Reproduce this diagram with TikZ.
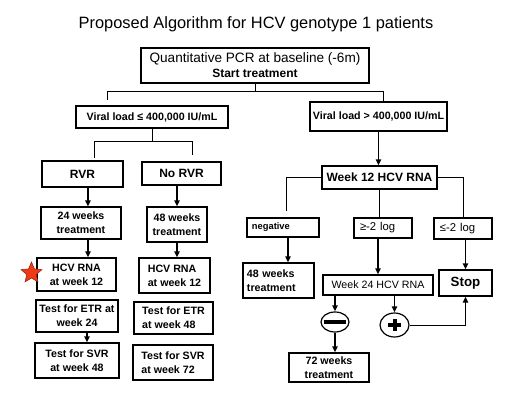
\documentclass[tikz,border=0pt]{standalone}
\usepackage{fontspec}
\setmainfont{Liberation Sans}
\usepackage{xcolor}
\usepackage{tikz}
\usetikzlibrary{arrows.meta,shapes.geometric}
\definecolor{starred}{HTML}{EE3B16}
\definecolor{stardark}{HTML}{9A1E0A}
\tikzset{
  box/.style={draw,line width=0.9pt,inner sep=1pt,align=center,font=\bfseries\fontsize{8}{10.5}\selectfont},
  sz/.style n args={2}{minimum width=#1*0.75pt,minimum height=#2*0.75pt},
  lbox/.style={align=left,text width=#1*0.75pt},
  link/.style={line width=0.7pt},
  arr/.style={line width=1.4pt,-{Triangle[length=4.5pt,width=4pt]}},
  oval/.style={draw,ellipse,line width=0.9pt,inner sep=0pt},
}

\begin{document}
\begin{tikzpicture}[x=0.75pt,y=-0.75pt]
  \useasboundingbox (0,0) rectangle (512,407);
  \node[anchor=base,font=\fontsize{12.3}{14}\selectfont] (title) at (256,28) {Proposed Algorithm for HCV genotype 1 patients};
  \node[box,sz={228}{35},font=\fontsize{10.2}{11.25}\selectfont] (start) at (255,65.5) {Quantitative PCR at baseline (-6m)\\{\bfseries\fontsize{9}{11.25}\selectfont Start treatment}};
  \node[box,sz={152}{22}] (vlow) at (152,117) {Viral load ≤ 400,000 IU/mL};
  \node[box,sz={137}{29}] (vhigh) at (378.5,116.5) {Viral load > 400,000 IU/mL};
  % low viral load branch
  \node[box,sz={81}{26},font=\bfseries\fontsize{9}{11}\selectfont] (rvr) at (82.5,174) {RVR};
  \node[box,sz={79}{23},font=\bfseries\fontsize{9}{11}\selectfont] (norvr) at (181.5,173.5) {No RVR};
  \node[box,sz={80}{32}] (wk24t) at (81,223) {24 weeks\\treatment};
  \node[box,sz={60}{35}] (wk48t) at (177,224.5) {48 weeks\\treatment};
  \node[box,sz={79}{33}] (rnaA) at (76.5,274.5) {HCV RNA\\at week 12};
  \node[box,sz={71}{35},align=left] (rnaB) at (174.5,275.5) {HCV RNA\\at week 12};
  \node[box,sz={82}{32}] (etrA) at (77,316) {Test for ETR at\\week 24};
  \node[box,sz={84}{35}] (svrA) at (77,360.5) {Test for SVR\\at week 48};
  \node[box,sz={79}{32},align=left] (etrB) at (173.5,318) {Test for ETR\\at week 48};
  \node[box,sz={80}{35},align=left] (svrB) at (173,362.5) {Test for SVR\\at week 72};
  \node[star,star points=5,star point ratio=2.2,minimum size=16.5pt,inner sep=0pt,fill=starred,draw=stardark,line width=0.4pt] (flag) at (31.5,273) {};
  % high viral load branch
  \node[box,sz={115}{23},font=\bfseries\fontsize{9}{11}\selectfont] (wk12) at (379.5,177.5) {Week 12 HCV RNA};
  \node[box,sz={72}{19},lbox=62,font=\bfseries\fontsize{7}{9}\selectfont] (neg) at (283,227.5) {negative};
  \node[box,sz={58}{20},lbox=46,font=\fontsize{8.5}{10}\selectfont] (ge) at (383,228) {≥-2 log};
  \node[box,sz={58}{21},lbox=46,font=\fontsize{8.5}{10}\selectfont] (le) at (463,228.5) {≤-2 log};
  \node[box,sz={71}{35},lbox=63] (wk48r) at (278.5,280.5) {48 weeks\\treatment};
  \node[box,sz={110}{20},font=\fontsize{8}{10}\selectfont] (wk24) at (378,285) {Week 24 HCV RNA};
  \node[box,sz={53}{26},font=\bfseries\fontsize{10}{12}\selectfont] (stop) at (465.5,283) {Stop};
  \node[oval,sz={28}{20}] (minus) at (335,322) {};
  \node[oval,sz={29}{24}] (plus) at (394.5,325) {};
  \node[box,sz={80}{29}] (wk72) at (329,367.5) {72 weeks\\treatment};
  \draw[line width=3pt] ([xshift=-8.6pt]minus.center) -- ([xshift=8.6pt]minus.center);
  \draw[line width=3pt] ([xshift=-4.9pt]plus.center) -- ([xshift=4.9pt]plus.center);
  \draw[line width=3pt] ([yshift=-4.5pt]plus.center) -- ([yshift=4.5pt]plus.center);
  % connectors
  \draw[link] (start.south) -- ++(0,8) coordinate (split1);
  \coordinate (tickL) at (107,100);
  \draw[link] (split1) -| (tickL);
  \draw[link] (split1) -| ([xshift=3.4pt]vhigh.north);
  \draw[link] (vlow.south) -- ++(0,13) coordinate (split2);
  \draw[link] (split2) -| ([xshift=8.6pt,yshift=2pt]rvr.north);
  \draw[link] (split2) -| ([xshift=7.9pt,yshift=5pt]norvr.north);
  \draw[arr] ([xshift=4.1pt]rvr.south) -- ([xshift=4.1pt]rvr.south |- wk24t.north);
  \draw[arr] ([xshift=5.25pt]wk24t.south) -- ([xshift=5.25pt]wk24t.south |- rnaA.north);
  \draw[arr] ([xshift=7.5pt]etrA.south) -- ([xshift=7.5pt]etrA.south |- svrA.north);
  \foreach \a/\b in {norvr/wk48t,ge/wk24,le/stop,wk24/minus,wk24/plus}{
    \draw[arr] (\b.north |- \a.south) -- (\b.north);
  }
  \foreach \a/\b in {wk48t/rnaB,vhigh/wk12,minus/wk72}{
    \draw[arr] (\a.south) -- (\a.south |- \b.north);
  }
  \draw[arr] ([xshift=3.75pt]neg.south) -- ([xshift=3.75pt]neg.south |- wk48r.north);
  \draw[link] (wk12.south) -- (wk12.south |- ge.north);
  \draw[link,shorten >=5pt] (wk12.west) -| ([xshift=2.25pt]neg.north);
  \draw[link] (wk12.east) -| (le.north);
  \draw[link] (plus.east) -- (plus.east -| stop.south) coordinate (pcorner);
  \draw[arr] (pcorner) -- (stop.south);
\end{tikzpicture}
\end{document}
